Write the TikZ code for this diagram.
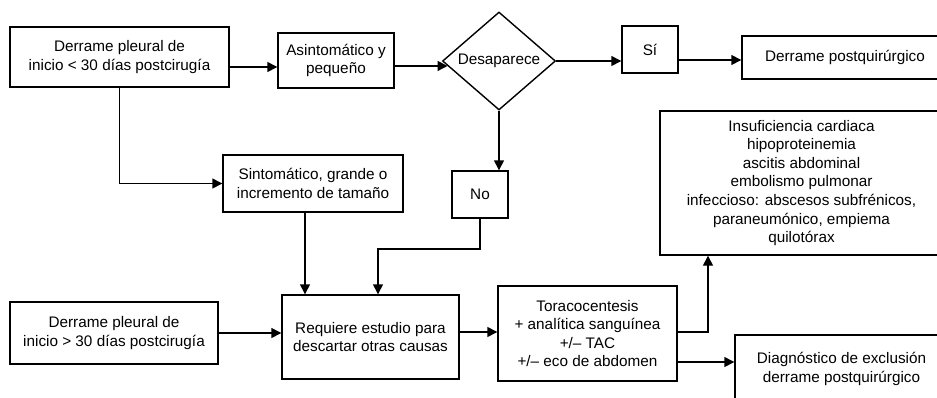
\documentclass[tikz,border=0pt]{standalone}
\usepackage{fontspec}
\setmainfont{Liberation Sans}
\usetikzlibrary{arrows.meta,shapes.geometric,calc}
\begin{document}
\begin{tikzpicture}[x=1pt,y=-1pt,
  every node/.style={font=\fontsize{15.3}{18.6}\selectfont, align=center, inner sep=0pt},
  box/.style={draw, line width=1.4pt, rectangle},
  con/.style={line width=1.4pt, -{Triangle[length=10pt,width=10pt]}}]
\useasboundingbox (0,0) rectangle (937,397);
\clip (0,0) rectangle (937,397);
\fill[white] (0,0) rectangle (937,397);

\node[box, minimum width=219pt, minimum height=60pt] (b1) at (119.5,57) {Derrame pleural de\\inicio < 30 días postcirugía};
\node[box, minimum width=116pt, minimum height=55pt] (asint) at (336,60.5) {Asintomático y\\pequeño};
\node[draw, line width=1.4pt, diamond, minimum width=113pt, minimum height=98pt] (dia) at (499,61) {Desaparece};
\node[box, minimum width=56pt, minimum height=47pt] (si) at (650,49.5) {Sí};
\node[box, minimum width=206pt, minimum height=43pt] (dpq) at (845,57.5) {Derrame postquirúrgico};
\node[box, minimum width=56pt, minimum height=47pt] (no) at (480,194.5) {No};
\node[box, minimum width=180pt, minimum height=57pt] (sint) at (313,183.5) {Sintomático, grande o\\incremento de tamaño};
\node[box, minimum width=283pt, minimum height=144pt] (insuf) at (801.5,183) {Insuficiencia cardiaca\\hipoproteinemia\\ascitis abdominal\\embolismo pulmonar\\infeccioso: abscesos subfrénicos,\\paraneumónico, empiema\\quilotórax};
\node[box, minimum width=177pt, minimum height=84pt] (req) at (370.5,337) {Requiere estudio para\\descartar otras causas};
\node[box, minimum width=208pt, minimum height=62pt] (b2) at (114,333) {Derrame pleural de\\inicio > 30 días postcirugía};
\node[box, minimum width=179pt, minimum height=95pt] (tor) at (587.5,333.5) {Toracocentesis\\+ analítica sanguínea\\+/– TAC\\+/– eco de abdomen};
\node[box, minimum width=213pt, minimum height=68pt] (diag) at (841.5,369) {Diagnóstico de exclusión\\derrame postquirúrgico};

\coordinate (yA) at (0,67);
\coordinate (yS) at (0,60);
\coordinate (yC) at (0,332);
\coordinate (yE) at (0,362);
\coordinate (kn) at (378,249);
\coordinate (k2) at (305,0);
\coordinate (k3) at (708,0);
\coordinate (dl) at ($(dia.west)!0.1!(dia.south)$);

\draw[con] (b1.east|-yA) -- (asint.west|-yA);
\draw[con] (asint.east|-dl) -- (dl);
\draw[con] (dia.east) -- (si.west|-dia.east);
\draw[con] (si.east|-yS) -- (dpq.west|-yS);
\draw[con] (dia.south) -- (dia.south|-no.north);
\draw[con] (no.south) |- (kn) -- (kn|-req.north);
\draw[con] (b1.south) |- (sint.west);
\draw[con] (sint.south-|k2) -- (req.north-|k2);
\draw[con] (b2.east) -- (req.west|-b2.east);
\draw[con] (req.east|-yC) -- (tor.west|-yC);
\draw[con] (tor.east|-yC) -| (k3|-insuf.south);
\draw[con] (tor.east|-yE) -- (diag.west|-yE);
\end{tikzpicture}
\end{document}
